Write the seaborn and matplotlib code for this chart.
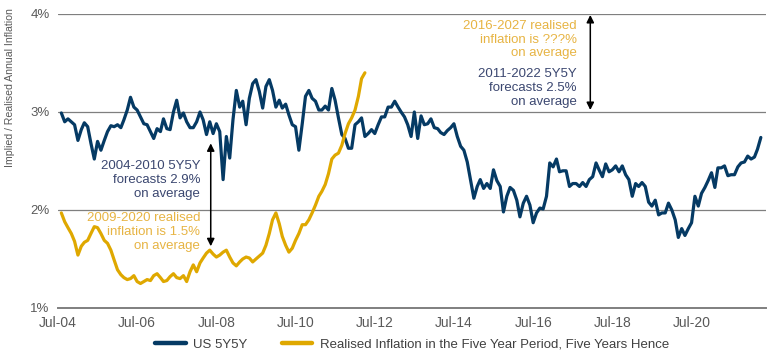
import pandas as pd
import seaborn as sns
import matplotlib.pyplot as plt
import matplotlib.dates as mdates

# monthly values, first month Aug-04
us_5y5y = [
    2.99, 2.90, 2.93, 2.90, 2.87, 2.71, 2.82, 2.89, 2.85, 2.68, 2.52, 2.70, 2.61, 2.71, 2.80, 2.86, 2.85,
    2.87, 2.84, 2.92, 3.02, 3.15, 3.05, 3.02, 2.95, 2.88, 2.87, 2.80, 2.73, 2.83, 2.80, 2.93, 2.83, 2.82,
    3.00,
    3.12, 2.94, 2.99, 2.90, 2.84, 2.84, 2.90, 3.00, 2.92, 2.77, 2.90, 2.78, 2.88, 2.80, 2.31, 2.75, 2.53,
    2.92, 3.22, 3.05, 3.11, 2.87, 3.14, 3.29, 3.33, 3.21, 3.04, 3.26, 3.33, 3.22, 3.05, 3.12, 3.04, 3.08, 2.97,
    2.87, 2.85, 2.61, 2.88, 3.16, 3.22, 3.14, 3.11, 3.02, 3.02, 3.06, 3.02, 3.24, 3.12, 2.94, 2.77, 2.73,
    2.63, 2.63, 2.87, 2.90, 2.94, 2.75, 2.78, 2.82, 2.78, 2.87, 2.95, 2.95, 3.05, 3.05, 3.11, 3.05, 3.00,
    2.95, 2.87, 2.75,
    3.00, 2.73, 2.96, 2.87, 2.88, 2.93, 2.84, 2.83, 2.79, 2.77, 2.81, 2.84, 2.88, 2.75, 2.65, 2.61, 2.49,
    2.31, 2.12, 2.24, 2.31, 2.22, 2.27, 2.22, 2.41, 2.30, 2.24, 1.98, 2.14, 2.23, 2.20, 2.10, 1.93, 2.07,
    2.14, 2.05, 1.87, 1.97,
    2.02, 2.01, 2.14, 2.48, 2.44, 2.52, 2.39, 2.40, 2.40, 2.24, 2.27, 2.27, 2.24, 2.28, 2.24, 2.31,
    2.34, 2.48, 2.41, 2.34, 2.47, 2.39, 2.41, 2.45, 2.39, 2.45, 2.36, 2.31, 2.14, 2.27, 2.24, 2.28, 2.24,
    2.08, 2.04, 2.10,
    1.95, 1.97, 1.97, 2.07, 2.00, 1.90, 1.72, 1.81, 1.74, 1.81, 1.87, 2.14, 2.04, 2.17, 2.23, 2.30, 2.38,
    2.23, 2.43, 2.43, 2.45, 2.35, 2.36, 2.36, 2.44, 2.48, 2.49, 2.55, 2.52, 2.54, 2.62, 2.74,
]

realised = [
    1.97, 1.88, 1.82, 1.76, 1.68, 1.54, 1.63, 1.67, 1.69, 1.76, 1.83, 1.82, 1.76, 1.69, 1.66, 1.59, 1.49,
    1.39, 1.34, 1.31, 1.29, 1.30, 1.33, 1.27, 1.25, 1.27, 1.29, 1.28, 1.33, 1.35, 1.31, 1.27, 1.28, 1.32,
    1.35, 1.31, 1.30, 1.33, 1.27, 1.37, 1.44, 1.37, 1.46, 1.51, 1.56, 1.59, 1.55, 1.52, 1.54, 1.57, 1.59,
    1.52, 1.46, 1.43, 1.47, 1.50, 1.52, 1.51, 1.47, 1.50, 1.53, 1.56, 1.64, 1.76, 1.90, 1.97, 1.86, 1.73,
    1.64, 1.57, 1.61,
    1.69, 1.76, 1.85, 1.85, 1.90, 1.97, 2.05, 2.14, 2.19, 2.26, 2.37, 2.52, 2.56, 2.58, 2.66, 2.78, 2.88,
    2.94, 3.02, 3.16, 3.34, 3.40,
]

series_names = ["US 5Y5Y", "Realised Inflation in the Five Year Period, Five Years Hence"]
y_ticks = [1, 2, 3, 4]
y_tick_labels = ["1%", "2%", "3%", "4%"]

navy = "#053A64"
gold = "#DFA800"
note_dark = "#3B4770"
note_gold = "#E7B443"
grey = "#7F7F7F"

df = pd.concat([
    pd.DataFrame({"date": pd.date_range("2004-08-01", periods=len(us_5y5y), freq="MS"),
                  "value": us_5y5y, "series": series_names[0]}),
    pd.DataFrame({"date": pd.date_range("2004-08-01", periods=len(realised), freq="MS"),
                  "value": realised, "series": series_names[1]}),
])

sns.set_style("white")
plt.rcParams["font.family"] = ["Liberation Sans", "DejaVu Sans"]

fig = plt.figure(figsize=(7.7, 3.55), dpi=100)
ax = fig.add_axes([0.0753, 0.1324, 0.9197, 0.8282])

sns.lineplot(data=df, x="date", y="value", hue="series", palette=[navy, gold],
             linewidth=2.3, ax=ax, legend=True)

ax.set_ylim(1, 4)
ax.set_xlim(pd.Timestamp("2004-07-01"), pd.Timestamp("2022-05-20"))
ax.set_yticks(y_ticks)
ax.set_yticklabels(y_tick_labels)
ax.grid(axis="y", color=grey, linewidth=0.9)
ax.grid(axis="x", visible=False)
ax.set_axisbelow(True)

ax.xaxis.set_major_locator(mdates.YearLocator(2, month=7, day=1))
ax.xaxis.set_major_formatter(mdates.DateFormatter("%b-%y"))

for s in ["left", "top", "right"]:
    ax.spines[s].set_visible(False)
ax.spines["bottom"].set_color(grey)
ax.spines["bottom"].set_linewidth(1.4)

ax.tick_params(axis="y", length=0, pad=6, labelsize=9.5, labelcolor="#595959")
ax.tick_params(axis="x", length=4, width=1.2, color=grey, pad=2, labelsize=10, labelcolor="#595959")
ax.set_xlabel("")
ax.set_ylabel("")
fig.text(0.013, 0.752, "Implied / Realised Annual Inflation", rotation=90,
         ha="center", va="center", fontsize=7.6, color="#595959")

# annotations
txt = dict(ha="right", va="center", fontsize=9.5, linespacing=1.2)
ax.text(pd.Timestamp("2008-02-01"), 2.306, "2004-2010 5Y5Y\nforecasts 2.9%\non average",
        color=note_dark, **txt)
ax.text(pd.Timestamp("2008-02-01"), 1.776, "2009-2020 realised\ninflation is 1.5%\non average",
        color=note_gold, **txt)
ax.text(pd.Timestamp("2017-08-05"), 3.738, "2016-2027 realised\ninflation is ???%\non average",
        color=note_gold, **txt)
ax.text(pd.Timestamp("2017-08-05"), 3.245, "2011-2022 5Y5Y\nforecasts 2.5%\non average",
        color=note_dark, **txt)

arrow = dict(arrowstyle="<|-|>", color="black", lw=1.1, mutation_scale=11,
             shrinkA=0, shrinkB=0)
ax.annotate("", xy=(pd.Timestamp("2008-05-10"), 2.68), xytext=(pd.Timestamp("2008-05-10"), 1.63),
            arrowprops=arrow)
ax.annotate("", xy=(pd.Timestamp("2017-12-10"), 3.99), xytext=(pd.Timestamp("2017-12-10"), 3.02),
            arrowprops=arrow)

handles, labels = ax.get_legend_handles_labels()
for h in handles:
    h.set_linewidth(3.2)
ax.legend(handles, labels, loc="center", bbox_to_anchor=(0.5, -0.125), ncol=2, frameon=False,
          fontsize=9.5, handlelength=2.3, handletextpad=0.55, columnspacing=2.65,
          labelcolor="#404040")

fig.savefig("out.png", dpi=100)
